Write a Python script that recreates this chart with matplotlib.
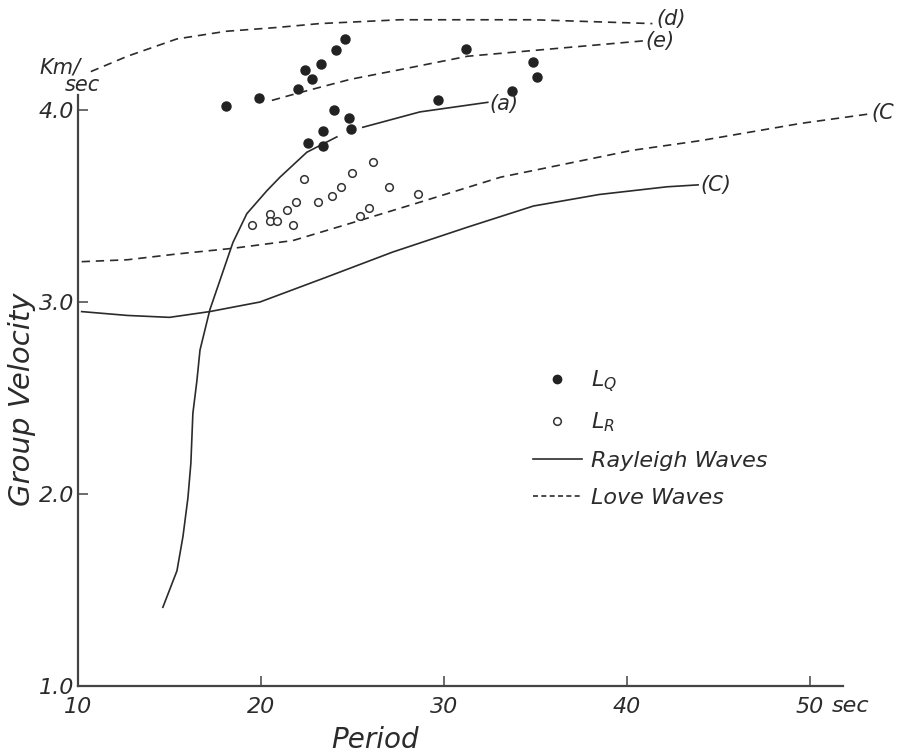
import numpy as np
import matplotlib
matplotlib.use('Agg')
import matplotlib.pyplot as plt
from matplotlib.lines import Line2D

plt.rcParams['font.family'] = ['DejaVu Sans']
plt.rcParams['font.style'] = 'italic'
plt.rcParams['mathtext.default'] = 'it'

ink = '#2b2b2b'

# observed group velocities (period in sec, velocity in km/sec)
lq_period = [18.1, 19.9, 22.0, 22.8, 22.4, 23.3, 24.1, 24.6, 24.0, 24.8,
             24.9, 23.4, 22.6, 23.4, 29.7, 31.2, 34.9, 35.1, 33.7]
lq_vel = [4.02, 4.06, 4.11, 4.16, 4.21, 4.24, 4.31, 4.37, 4.00, 3.96,
          3.90, 3.89, 3.83, 3.81, 4.05, 4.32, 4.25, 4.17, 4.10]

lr_period = [22.35, 26.1, 25.0, 24.4, 23.9, 23.1, 21.9, 21.4, 20.5, 20.5,
             20.9, 19.5, 21.75, 25.4, 25.9, 27.0, 28.6]
lr_vel = [3.64, 3.73, 3.67, 3.60, 3.55, 3.52, 3.52, 3.48, 3.46, 3.42,
          3.42, 3.40, 3.40, 3.45, 3.49, 3.60, 3.56]

# Rayleigh waves, curve (a)
ray_a_period = [14.64, 15.41, 15.74, 16.01, 16.17, 16.28, 16.50, 16.67, 17.21,
                18.47, 19.23, 20.33, 21.04, 22.51, 24.15, np.nan,
                25.57, 28.69, 32.40]
ray_a_vel = [1.41, 1.60, 1.78, 1.98, 2.16, 2.42, 2.59, 2.75, 2.96,
             3.31, 3.46, 3.58, 3.65, 3.78, 3.86, np.nan,
             3.91, 3.99, 4.04]

# Rayleigh waves, curve (C)
ray_c_period = [10.2, 12.7, 15.0, 17.2, 19.95, 23.6, 27.2, 31.3, 34.9, 38.5, 42.2, 43.9]
ray_c_vel = [2.95, 2.93, 2.92, 2.95, 3.00, 3.13, 3.26, 3.39, 3.50, 3.56, 3.60, 3.61]

# Love waves, curve (C)
love_c_period = [10.2, 12.7, 15.4, 18.5, 21.75, 22.8, 25.25, 28.7, 33.1, 36.7, 40.3, 44.0, 49.5, 53.3]
love_c_vel = [3.21, 3.22, 3.25, 3.28, 3.32, 3.35, 3.42, 3.52, 3.65, 3.72, 3.79, 3.84, 3.93, 3.98]

# Love waves, curve (d)
love_d_period = [10.7, 12.7, 15.4, 18.1, 20.9, 23.2, 27.6, 34.9, 41.4]
love_d_vel = [4.20, 4.28, 4.37, 4.41, 4.43, 4.45, 4.47, 4.47, 4.45]

# Love waves, curve (e)
love_e_period = [20.6, 22.1, 24.9, 27.6, 31.3, 34.9, 40.9]
love_e_vel = [4.05, 4.09, 4.16, 4.21, 4.28, 4.31, 4.36]

fig = plt.figure(figsize=(9.01, 7.52), dpi=100)
ax = fig.add_axes([78 / 901, 66 / 752, 814 / 901, 681.6 / 752])
ax.set_xlim(10, 54.5)
ax.set_ylim(1.0, 4.55)

lw = 1.2
dash = (5, 3.5)
ax.plot(ray_a_period, ray_a_vel, '-', color=ink, lw=lw)
ax.plot(ray_c_period, ray_c_vel, '-', color=ink, lw=lw)
ax.plot(love_c_period, love_c_vel, '--', dashes=dash, color=ink, lw=lw, clip_on=False)
ax.plot(love_d_period, love_d_vel, '--', dashes=dash, color=ink, lw=lw, clip_on=False)
ax.plot(love_e_period, love_e_vel, '--', dashes=dash, color=ink, lw=lw)

ax.plot(lq_period, lq_vel, 'o', color='#222222', ms=6.5, ls='none')
ax.plot(lr_period, lr_vel, 'o', mfc='white', mec='#333333', mew=1.1, ms=5.5, ls='none')

# curve names
lab = dict(color=ink, fontsize=15, va='center', ha='left')
ax.text(32.5, 4.03, '(a)', **lab)
ax.text(44.0, 3.61, '(C)', **lab)
ax.text(53.35, 3.985, '(C', clip_on=False, **lab)
ax.text(41.6, 4.475, '(d)', clip_on=False, **lab)
ax.text(41.0, 4.36, '(e)', **lab)

# axes in the hand drawn style
for s in ['top', 'right']:
    ax.spines[s].set_visible(False)
ax.spines['left'].set_bounds(1.0, 4.08)
ax.spines['bottom'].set_bounds(10, 51.8)
for s in ['left', 'bottom']:
    ax.spines[s].set_color('#444444')
    ax.spines[s].set_linewidth(1.6)

ax.set_xticks([10, 20, 30, 40, 50])
ax.set_xticklabels(['10', '20', '30', '40', '50'])
ax.set_yticks([1.0, 2.0, 3.0, 4.0])
ax.set_yticklabels(['1.0', '2.0', '3.0', '4.0'])
ax.tick_params(direction='in', length=7, width=1.1, colors='#444444',
               labelsize=16, labelcolor=ink)
ax.tick_params(axis='x', pad=8)
ax.tick_params(axis='y', pad=3)
ax.text(51.2, 0.895, 'sec', color=ink, fontsize=16, va='center', ha='left', clip_on=False)

ax.text(7.9, 4.22, 'Km/', color=ink, fontsize=15, va='center', ha='left', clip_on=False)
ax.text(9.3, 4.13, 'sec', color=ink, fontsize=15, va='center', ha='left', clip_on=False)

ax.set_xlabel('Period', fontsize=20, color=ink)
ax.xaxis.set_label_coords(0.365, -0.058)
ax.set_ylabel('Group Velocity', fontsize=21, color=ink)
ax.yaxis.set_label_coords(-0.052, 0.42)

handles = [
    Line2D([], [], marker='o', ls='none', color='#222222', ms=6),
    Line2D([], [], marker='o', ls='none', mfc='white', mec='#333333', mew=1.1, ms=5.5),
    Line2D([], [], ls='-', color=ink, lw=lw),
    Line2D([], [], ls='--', dashes=(3, 2), color=ink, lw=lw),
]
labels = ['$L_Q$', '$L_R$', 'Rayleigh Waves', 'Love Waves']
leg = ax.legend(handles, labels, loc='upper left', bbox_to_anchor=(0.545, 0.482),
                frameon=False, fontsize=16, handlelength=2.2, handletextpad=0.4,
                labelspacing=0.75, borderpad=0)
for t in leg.get_texts():
    t.set_color(ink)

fig.savefig('out.png', dpi=100)
